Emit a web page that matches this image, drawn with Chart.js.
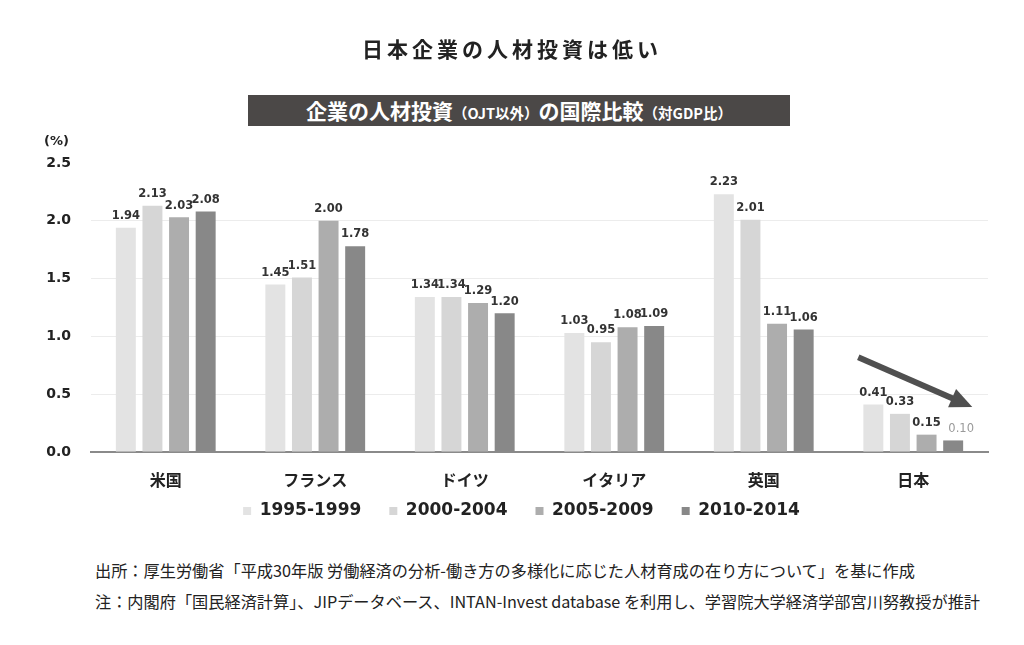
<!DOCTYPE html>
<html lang="ja">
<head>
<meta charset="utf-8">
<title>日本企業の人材投資は低い</title>
<script src="https://cdn.jsdelivr.net/npm/chart.js@4/dist/chart.umd.min.js"></script>
<style>
    body {
        margin: 0;
        background: #ffffff;
        font-family: "Noto Sans CJK JP", "Noto Sans", sans-serif;
        color: #222222;
    }
    #page {
        position: relative;
        width: 1024px;
        height: 645px;
        overflow: hidden;
    }
    #title {
        position: absolute;
        left: 0;
        top: 33px;
        width: 1024px;
        text-align: center;
        font-size: 21px;
        font-weight: 700;
        letter-spacing: 4px;
        line-height: 30px;
    }
    #subtitle {
        position: absolute;
        left: 248px;
        top: 95px;
        width: 542px;
        height: 31px;
        background: #4b4847;
        color: #ffffff;
        text-align: center;
        font-weight: 700;
        font-size: 21px;
        line-height: 31px;
        white-space: nowrap;
    }
    #subtitle small {
        font-size: 14.5px;
    }
    #unit {
        position: absolute;
        left: 44px;
        top: 133px;
        font-family: "DejaVu Sans", sans-serif;
        font-weight: 700;
        font-size: 13px;
    }
    #chartBox {
        position: absolute;
        left: 0;
        top: 0;
        width: 1024px;
        height: 556px;
    }
    .note {
        position: absolute;
        left: 95px;
        font-size: 16.2px;
        line-height: 20px;
        white-space: nowrap;
        color: #222222;
    }
</style>
</head>
<body>
<div id="page">
    <div id="chartBox"><canvas id="investCanvas"></canvas></div>
    <div id="title">日本企業の人材投資は低い</div>
    <div id="subtitle">企業の人材投資<small>（OJT以外）</small>の国際比較<small>（対GDP比）</small></div>
    <div id="unit">(%)</div>
    <div class="note" style="top: 560px;">出所：厚生労働省「平成30年版 労働経済の分析-働き方の多様化に応じた人材育成の在り方について」を基に作成</div>
    <div class="note" style="top: 591px;">注：内閣府「国民経済計算」、JIPデータベース、INTAN-Invest database を利用し、学習院大学経済学部宮川努教授が推計</div>
</div>
<script>
const countries = ["米国", "フランス", "ドイツ", "イタリア", "英国", "日本"];
const periods = ["1995-1999", "2000-2004", "2005-2009", "2010-2014"];
const values1995 = [1.94, 1.45, 1.34, 1.03, 2.23, 0.41];
const values2000 = [2.13, 1.51, 1.34, 0.95, 2.01, 0.33];
const values2005 = [2.03, 2.00, 1.29, 1.08, 1.11, 0.15];
const values2010 = [2.08, 1.78, 1.20, 1.09, 1.06, 0.10];
const yTicks = [0, 0.5, 1.0, 1.5, 2.0, 2.5];
// trend arrow over Japan (value coords)
const arrowFrom = 0.82;
const arrowTo = 0.39;

const barColors = ["#e3e3e3", "#d6d6d6", "#adadad", "#888888"];
const numberFont = "DejaVu Sans";

const valueLabels = {
    id: "valueLabels",
    afterDatasetsDraw(chart) {
        const ctx = chart.ctx;
        ctx.save();
        ctx.textAlign = "center";
        ctx.textBaseline = "bottom";
        chart.data.datasets.forEach((ds, i) => {
            chart.getDatasetMeta(i).data.forEach((bar, j) => {
                const v = ds.data[j];
                const isJapanLast = i === 3 && j === 5;
                ctx.font = (isJapanLast ? "" : "bold ") + "11.5px " + numberFont;
                ctx.fillStyle = isJapanLast ? "#9a9a9a" : "#333333";
                const dx = isJapanLast ? 8 : 0;
                ctx.fillText(v.toFixed(2), bar.x + dx, bar.y - 6);
            });
        });
        ctx.restore();
    },
};

const trendArrow = {
    id: "trendArrow",
    afterDraw(chart) {
        const x = chart.scales.x;
        const y = chart.scales.y;
        const cx = x.getPixelForValue(5);
        const x1 = cx - 55;
        const y1 = y.getPixelForValue(arrowFrom);
        const x2 = cx + 59;
        const y2 = y.getPixelForValue(arrowTo);
        const ang = Math.atan2(y2 - y1, x2 - x1);
        const headLen = 22;
        const headHalf = 10;
        const bx = x2 - headLen * Math.cos(ang);
        const by = y2 - headLen * Math.sin(ang);
        const ctx = chart.ctx;
        ctx.save();
        ctx.strokeStyle = "#505050";
        ctx.fillStyle = "#505050";
        ctx.lineWidth = 6;
        ctx.beginPath();
        ctx.moveTo(x1, y1);
        ctx.lineTo(bx + 2 * Math.cos(ang), by + 2 * Math.sin(ang));
        ctx.stroke();
        ctx.beginPath();
        ctx.moveTo(x2, y2);
        ctx.lineTo(bx - headHalf * Math.sin(ang), by + headHalf * Math.cos(ang));
        ctx.lineTo(bx + headHalf * Math.sin(ang), by - headHalf * Math.cos(ang));
        ctx.closePath();
        ctx.fill();
        ctx.restore();
    },
};

// the legend needs wide gaps between items, but sits close under the axis
const legendNudge = {
    id: "legendNudge",
    afterLayout(chart) {
        const lg = chart.legend;
        if (!lg) return;
        lg.top -= 16.5;
        lg.bottom -= 16.5;
        lg.left += 7;
        lg.right += 7;
    },
};

const seriesValues = [values1995, values2000, values2005, values2010];
const data = {
    labels: countries,
    datasets: periods.map((p, i) => ({
        label: p,
        data: seriesValues[i],
        backgroundColor: barColors[i],
        borderWidth: 0,
        categoryPercentage: 0.712,
        barPercentage: 0.75,
    })),
};

const config = {
    type: "bar",
    data: data,
    options: {
        responsive: true,
        maintainAspectRatio: false,
        animation: false,
        layout: {
            padding: { top: 163, left: 41, right: 36, bottom: 10 },
        },
        plugins: {
            legend: {
                position: "bottom",
                labels: {
                    boxWidth: 8,
                    boxHeight: 8,
                    padding: 28,
                    color: "#222222",
                    font: { family: numberFont, weight: "bold", size: 17 },
                },
            },
            tooltip: { enabled: false },
        },
        scales: {
            x: {
                grid: { display: false, drawTicks: false },
                border: { display: true, color: "#8a8a8a", width: 2 },
                ticks: {
                    padding: 18,
                    color: "#222222",
                    font: { family: "Noto Sans CJK JP", weight: "bold", size: 16 },
                },
                afterFit: (scale) => {
                    scale.height = 39;
                },
            },
            y: {
                min: 0,
                max: 2.5,
                afterBuildTicks: (scale) => {
                    scale.ticks = yTicks.map((v) => ({ value: v }));
                },
                grid: {
                    drawTicks: false,
                    color: (c) =>
                        c.tick && c.tick.value > 0 && c.tick.value < 2.5
                            ? "#ececec"
                            : "rgba(0,0,0,0)",
                    lineWidth: 1,
                },
                border: { display: false },
                ticks: {
                    padding: 20,
                    color: "#222222",
                    font: { family: numberFont, weight: "bold", size: 14 },
                    callback: (v) => Number(v).toFixed(1),
                },
                afterFit: (scale) => {
                    scale.width = 50;
                },
            },
        },
    },
    plugins: [valueLabels, trendArrow, legendNudge],
};

const myChart = new Chart(document.getElementById("investCanvas"), config);
</script>
</body>
</html>
